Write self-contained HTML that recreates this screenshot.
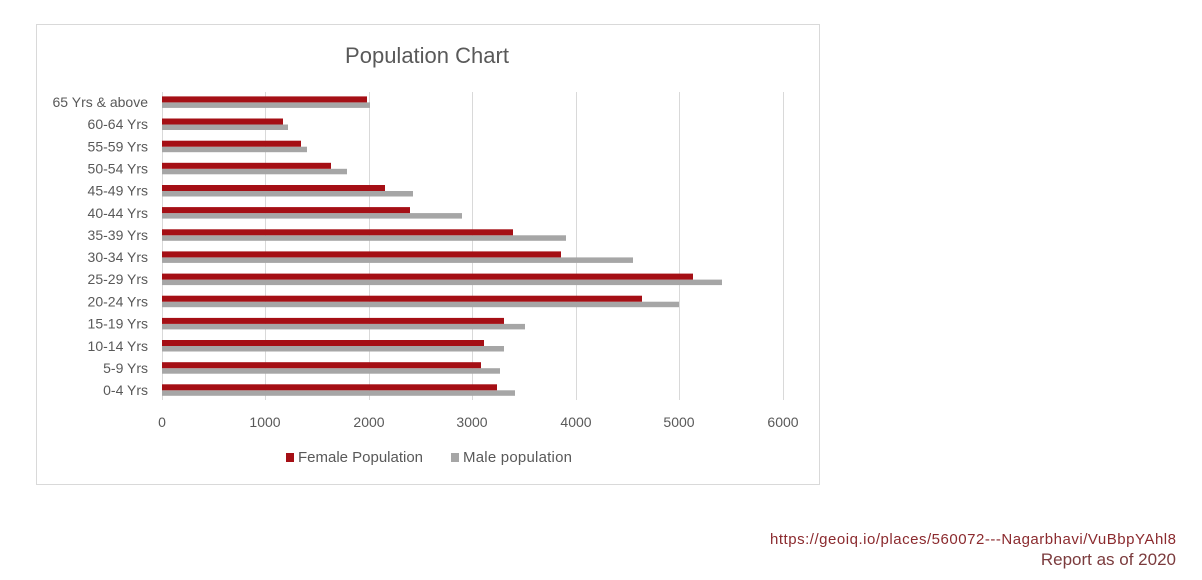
<!DOCTYPE html>
<html><head><meta charset="utf-8"><style>
html,body{margin:0;padding:0;background:#fff;}
svg{display:block;font-family:"Liberation Sans",sans-serif;}
</style></head><body>
<svg width="1202" height="580" viewBox="0 0 1202 580">
<rect x="36.5" y="24.5" width="783" height="460" fill="#fff" stroke="#d9d9d9" stroke-width="1"/>
<text x="427" y="63" font-size="22" fill="#595959" text-anchor="middle">Population Chart</text>
<g stroke="#d9d9d9" stroke-width="1">
<line x1="162.5" y1="92" x2="162.5" y2="400"/>
<line x1="265.5" y1="92" x2="265.5" y2="400"/>
<line x1="369.5" y1="92" x2="369.5" y2="400"/>
<line x1="472.5" y1="92" x2="472.5" y2="400"/>
<line x1="576.5" y1="92" x2="576.5" y2="400"/>
<line x1="679.5" y1="92" x2="679.5" y2="400"/>
<line x1="783.5" y1="92" x2="783.5" y2="400"/>
</g>
<g fill="#a6a6a6">
<rect x="162" y="390.3" width="353" height="5.5"/>
<rect x="162" y="368.2" width="338" height="5.5"/>
<rect x="162" y="346" width="342" height="5.5"/>
<rect x="162" y="323.9" width="363" height="5.5"/>
<rect x="162" y="301.7" width="517" height="5.5"/>
<rect x="162" y="279.6" width="560" height="5.5"/>
<rect x="162" y="257.4" width="471" height="5.5"/>
<rect x="162" y="235.3" width="404" height="5.5"/>
<rect x="162" y="213.1" width="300" height="5.5"/>
<rect x="162" y="191" width="251" height="5.5"/>
<rect x="162" y="168.8" width="185" height="5.5"/>
<rect x="162" y="146.7" width="145" height="5.5"/>
<rect x="162" y="124.5" width="126" height="5.5"/>
<rect x="162" y="102.4" width="208" height="5.5"/>
</g>
<g fill="#a50f15">
<rect x="162" y="384.3" width="335" height="6"/>
<rect x="162" y="362.2" width="319" height="6"/>
<rect x="162" y="340" width="322" height="6"/>
<rect x="162" y="317.9" width="342" height="6"/>
<rect x="162" y="295.7" width="480" height="6"/>
<rect x="162" y="273.6" width="531" height="6"/>
<rect x="162" y="251.4" width="399" height="6"/>
<rect x="162" y="229.3" width="351" height="6"/>
<rect x="162" y="207.1" width="248" height="6"/>
<rect x="162" y="185" width="223" height="6"/>
<rect x="162" y="162.8" width="169" height="6"/>
<rect x="162" y="140.7" width="139" height="6"/>
<rect x="162" y="118.5" width="121" height="6"/>
<rect x="162" y="96.4" width="205" height="6"/>
</g>
<g font-size="14" fill="#595959" text-anchor="end" textLength="">
<text x="148" y="395">0-4 Yrs</text>
<text x="148" y="373">5-9 Yrs</text>
<text x="148" y="351">10-14 Yrs</text>
<text x="148" y="328.5">15-19 Yrs</text>
<text x="148" y="306.5">20-24 Yrs</text>
<text x="148" y="284">25-29 Yrs</text>
<text x="148" y="262">30-34 Yrs</text>
<text x="148" y="240">35-39 Yrs</text>
<text x="148" y="218">40-44 Yrs</text>
<text x="148" y="195.5">45-49 Yrs</text>
<text x="148" y="173.5">50-54 Yrs</text>
<text x="148" y="151.5">55-59 Yrs</text>
<text x="148" y="129">60-64 Yrs</text>
<text x="148" y="107">65 Yrs &amp; above</text>
</g>
<g font-size="14" fill="#595959" text-anchor="middle">
<text x="162" y="427">0</text>
<text x="265" y="427">1000</text>
<text x="369" y="427">2000</text>
<text x="472" y="427">3000</text>
<text x="576" y="427">4000</text>
<text x="679" y="427">5000</text>
<text x="783" y="427">6000</text>
</g>
<rect x="286" y="453" width="8" height="9" fill="#a50f15"/>
<text x="298" y="462" font-size="15" fill="#595959" textLength="125">Female Population</text>
<rect x="451" y="453" width="8" height="9" fill="#a6a6a6"/>
<text x="463" y="462" font-size="15" fill="#595959" textLength="109">Male population</text>
<text x="1176" y="544" font-size="15" fill="#8b2a2e" text-anchor="end" textLength="406">https://geoiq.io/places/560072---Nagarbhavi/VuBbpYAhl8</text>
<text x="1176" y="565" font-size="17" fill="#7b3b3d" text-anchor="end">Report as of 2020</text>
</svg>
</body></html>
